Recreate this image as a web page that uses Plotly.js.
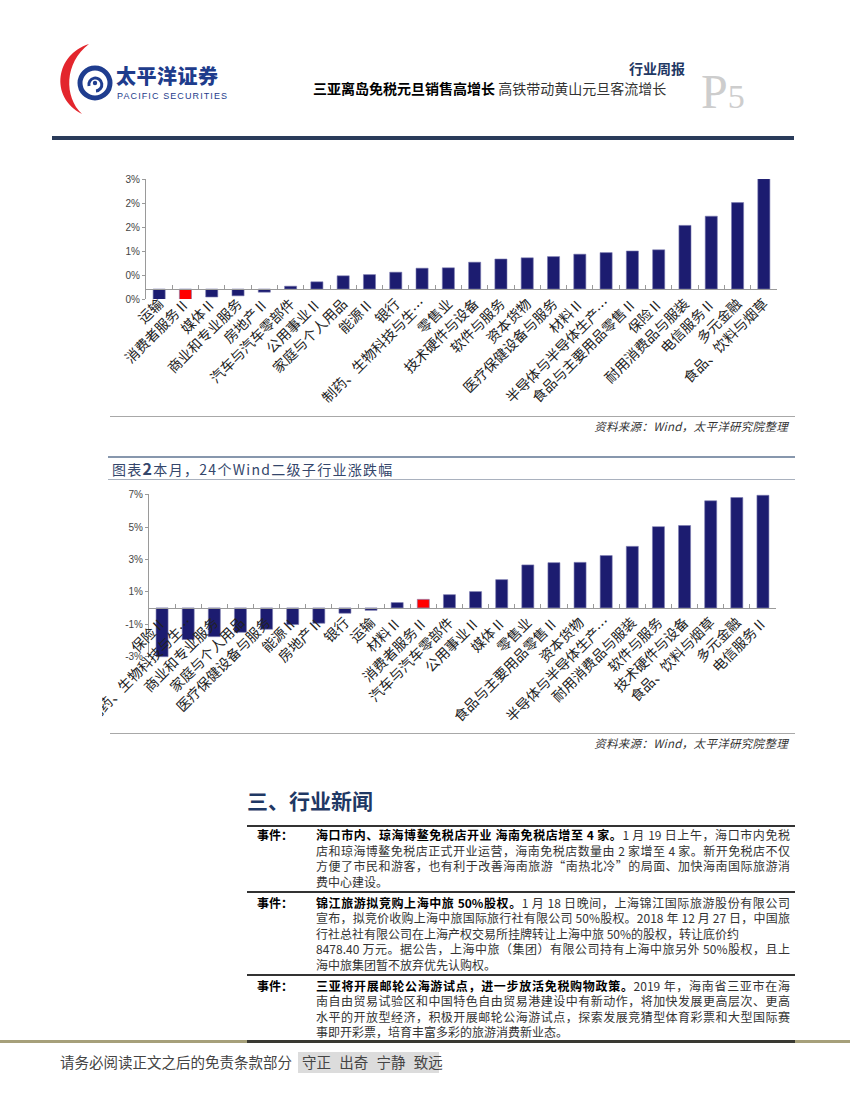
<!DOCTYPE html>
<html>
<head>
<meta charset="utf-8">
<script src="https://cdn.plot.ly/plotly-3.0.1.min.js"></script>
<style>
  body{margin:0;width:850px;height:1100px;position:relative;background:#fff;overflow:hidden;
       font-family:"Noto Sans CJK SC","Noto Sans",sans-serif;color:#222;}
  .abs{position:absolute;white-space:nowrap;}
  .chart{position:absolute;}
  .src{position:absolute;right:62px;font-size:11.5px;font-style:italic;color:#333;white-space:nowrap;z-index:3;letter-spacing:0.3px;}
  .ln{position:absolute;left:316px;width:474px;height:15.5px;line-height:15.5px;font-size:12px;color:#333;white-space:nowrap;}
  .j{text-align:justify;text-align-last:justify;}
  .lab{position:absolute;left:257px;font-size:12px;font-weight:700;color:#000;line-height:15.5px;}
  b{color:#000;font-weight:700;}
  .hr{position:absolute;}
</style>
</head>
<body>

<!-- header logo -->
<svg class="abs" style="left:0;top:0;z-index:2" width="116" height="130">
  <path d="M 89 44 C 56 54, 49 97, 82 114 C 64 97, 64 63, 89 44 Z" fill="#e3262d"/>
  <circle cx="95" cy="83" r="15" fill="none" stroke="#1f3d8f" stroke-width="5"/>
  <path d="M 89 86 A 6.5 6.5 0 1 1 96 91" fill="none" stroke="#1f3d8f" stroke-width="3"/>
  <circle cx="95" cy="83" r="2.2" fill="#1f3d8f"/>
</svg>
<div class="abs" style="left:116px;top:66px;font-size:20px;line-height:20px;font-weight:900;color:#1e3c8c;letter-spacing:0.5px;">太平洋证券</div>
<div class="abs" style="left:117px;top:90.5px;font-size:9px;line-height:10px;color:#1e3c8c;letter-spacing:1.1px;font-family:'Liberation Sans',sans-serif;">PACIFIC SECURITIES</div>

<div class="abs" style="left:629px;top:58px;font-size:14px;font-weight:700;color:#1f3864;">行业周报</div>
<div class="abs" style="left:313px;top:78px;font-size:14px;color:#333;"><b>三亚离岛免税元旦销售高增长</b> 高铁带动黄山元旦客流增长</div>
<div class="abs" style="left:701px;top:67px;font-family:'Liberation Serif',serif;color:#cdcdcd;line-height:50px;"><span style="font-size:48px;">P</span><span style="font-size:34px;">5</span></div>
<div class="hr" style="left:52px;top:136px;width:742px;height:4px;background:#2a3b5a;"></div>

<!-- chart 1 -->
<div id="c1" class="chart" style="left:0;top:160px;width:850px;height:260px;"></div>
<div class="hr" style="left:110px;top:416px;width:685px;height:1px;background:#a8a8a8;z-index:3;"></div>
<div class="src" style="top:418px;">资料来源：Wind，太平洋研究院整理</div>

<!-- chart 2 title -->
<div class="hr" style="left:108px;top:456px;width:687px;height:2px;background:#8797ad;"></div>
<div class="abs" style="left:112px;top:458px;font-size:14px;color:#34466b;line-height:20px;letter-spacing:1.3px;">图表<b style="color:#34466b;font-size:16px;">2</b>本月，24个Wind二级子行业涨跌幅</div>
<div class="hr" style="left:108px;top:479px;width:687px;height:1px;background:#a9b1be;"></div>

<!-- chart 2 (clipped on the left like the pasted picture) -->
<div id="c2" class="chart" style="left:102px;top:480px;width:748px;height:270px;overflow:hidden;"></div>
<div class="hr" style="left:110px;top:733px;width:685px;height:1px;background:#a8a8a8;z-index:3;"></div>
<div class="src" style="top:735px;">资料来源：Wind，太平洋研究院整理</div>

<!-- section -->
<div class="abs" style="left:247px;top:785px;font-size:21px;font-weight:700;color:#1f3864;line-height:30px;">三、行业新闻</div>

<!-- table -->
<div class="hr" style="left:247px;top:825px;width:548px;height:1.5px;background:#333;"></div>

<div class="lab" style="top:827px;">事件：</div>
<div class="ln j" style="top:827px;"><b>海口市内、琼海博鳌免税店开业 海南免税店增至 4 家。</b>1 月 19 日上午，海口市内免税</div>
<div class="ln j" style="top:842.5px;">店和琼海博鳌免税店正式开业运营，海南免税店数量由 2 家增至 4 家。新开免税店不仅</div>
<div class="ln j" style="top:858px;">方便了市民和游客，也有利于改善海南旅游“南热北冷”的局面、加快海南国际旅游消</div>
<div class="ln" style="top:873.5px;">费中心建设。</div>
<div class="hr" style="left:247px;top:891px;width:548px;height:1.5px;background:#333;"></div>

<div class="lab" style="top:894.5px;">事件：</div>
<div class="ln j" style="top:894.5px;"><b>锦江旅游拟竞购上海中旅 50%股权。</b>1 月 18 日晚间，上海锦江国际旅游股份有限公司</div>
<div class="ln j" style="top:910px;">宣布，拟竞价收购上海中旅国际旅行社有限公司 50%股权。2018 年 12 月 27 日，中国旅</div>
<div class="ln" style="top:925.5px;">行社总社有限公司在上海产权交易所挂牌转让上海中旅 50%的股权，转让底价约</div>
<div class="ln j" style="top:941px;">8478.40 万元。据公告，上海中旅（集团）有限公司持有上海中旅另外 50%股权，且上</div>
<div class="ln" style="top:956.5px;">海中旅集团暂不放弃优先认购权。</div>
<div class="hr" style="left:247px;top:974px;width:548px;height:1.5px;background:#333;"></div>

<div class="lab" style="top:977.5px;">事件：</div>
<div class="ln j" style="top:977.5px;"><b>三亚将开展邮轮公海游试点，进一步放活免税购物政策。</b>2019 年，海南省三亚市在海</div>
<div class="ln j" style="top:993px;">南自由贸易试验区和中国特色自由贸易港建设中有新动作，将加快发展更高层次、更高</div>
<div class="ln j" style="top:1008.5px;">水平的开放型经济，积极开展邮轮公海游试点，探索发展竞猜型体育彩票和大型国际赛</div>
<div class="ln" style="top:1024px;">事即开彩票，培育丰富多彩的旅游消费新业态。</div>

<!-- footer -->
<div class="hr" style="left:0;top:1040px;width:850px;height:3px;background:#a6a07a;"></div>
<div class="hr" style="left:247px;top:1040px;width:548px;height:2.5px;background:#3a3a33;"></div>
<div class="abs" style="left:60px;top:1051px;font-size:14.5px;color:#444;line-height:22px;">请务必阅读正文之后的免责条款部分</div>
<div class="abs" style="left:298px;top:1052px;width:141px;height:21px;background:#dcdcdc;"></div>
<div class="abs" style="left:302px;top:1051px;font-size:14.5px;color:#444;line-height:22px;word-spacing:5px;">守正 出奇 宁静 致远</div>

<script>
// ---------- data ----------
const cats1 = ['运输','消费者服务Ⅱ','媒体Ⅱ','商业和专业服务','房地产Ⅱ','汽车与汽车零部件','公用事业Ⅱ',
  '家庭与个人用品','能源Ⅱ','银行','制药、生物科技与生…','零售业','技术硬件与设备','软件与服务','资本货物',
  '医疗保健设备与服务','材料Ⅱ','半导体与半导体生产…','食品与主要用品零售Ⅱ','保险Ⅱ','耐用消费品与服装',
  '电信服务Ⅱ','多元金融','食品、饮料与烟草'];
const vals1 = [-0.27,-0.27,-0.20,-0.17,-0.08,0.07,0.18,0.33,0.36,0.42,0.52,0.53,0.67,0.75,0.78,
  0.81,0.87,0.91,0.95,0.98,1.59,1.82,2.16,2.76];

const cats2 = ['保险Ⅱ','制药、生物科技与生…','商业和专业服务','家庭与个人用品','医疗保健设备与服务','能源Ⅱ',
  '房地产Ⅱ','银行','运输','材料Ⅱ','消费者服务Ⅱ','汽车与汽车零部件','公用事业Ⅱ','媒体Ⅱ','零售业',
  '食品与主要用品零售Ⅱ','资本货物','半导体与半导体生产…','耐用消费品与服装','软件与服务','技术硬件与设备',
  '食品、饮料与烟草','多元金融','电信服务Ⅱ'];
const vals2 = [-3.02,-1.96,-1.78,-1.51,-1.32,-1.03,-0.95,-0.33,-0.15,0.33,0.53,0.82,1.01,1.75,2.66,
  2.80,2.82,3.24,3.81,5.03,5.10,6.63,6.83,6.97];

const yTicks1 = [-0.25,0.35,0.95,1.55,2.15,2.75];
const yTickText1 = ['0%','0%','1%','2%','2%','3%'];
const yTicks2 = [-3,-1,1,3,5,7];
const yTickText2 = ['-3%','-1%','1%','3%','5%','7%'];
const highlightCat = '消费者服务Ⅱ';

// ---------- drawing ----------
function drawBars(id, cats, vals, tickVals, tickText, yRange, width, height, margin){
  const colors = cats.map(c => c === highlightCat ? '#ff0000' : '#1c1c70');
  const zeroPos = (0 - yRange[0]) / (yRange[1] - yRange[0]);
  Plotly.newPlot(id, [{
    type:'bar', x:cats, y:vals,
    marker:{color:colors, line:{color:'#7a7ab0', width:0.6}},
    hoverinfo:'none'
  }], {
    width:width, height:height, margin:margin,
    paper_bgcolor:'rgba(0,0,0,0)', plot_bgcolor:'rgba(0,0,0,0)',
    bargap:0.54, showlegend:false,
    xaxis:{type:'category', anchor:'free', position:zeroPos,
      showline:true, linecolor:'#9a9a9a', linewidth:1,
      ticks:'inside', tickson:'boundaries', ticklen:4, tickcolor:'#9a9a9a',
      tickangle:-45, dtick:1,
      tickfont:{family:'Noto Sans CJK SC', size:14, color:'#222'},
      showgrid:false, zeroline:false, automargin:false},
    yaxis:{range:yRange, tickmode:'array', tickvals:tickVals, ticktext:tickText,
      showline:true, linecolor:'#9a9a9a', linewidth:1,
      ticks:'outside', ticklen:3, tickcolor:'#9a9a9a',
      tickfont:{family:'Liberation Sans', size:10, color:'#444'},
      showgrid:false, zeroline:false, automargin:false}
  }, {staticPlot:true, displayModeBar:false});
}

drawBars('c1', cats1, vals1, yTicks1, yTickText1, [-0.25, 2.75], 850, 260, {l:146, r:73, t:19, b:121});
drawBars('c2', cats2, vals2, yTicks2, yTickText2, [-3.1, 7.05], 748, 270, {l:47, r:74, t:14, b:92});
</script>
</body>
</html>
